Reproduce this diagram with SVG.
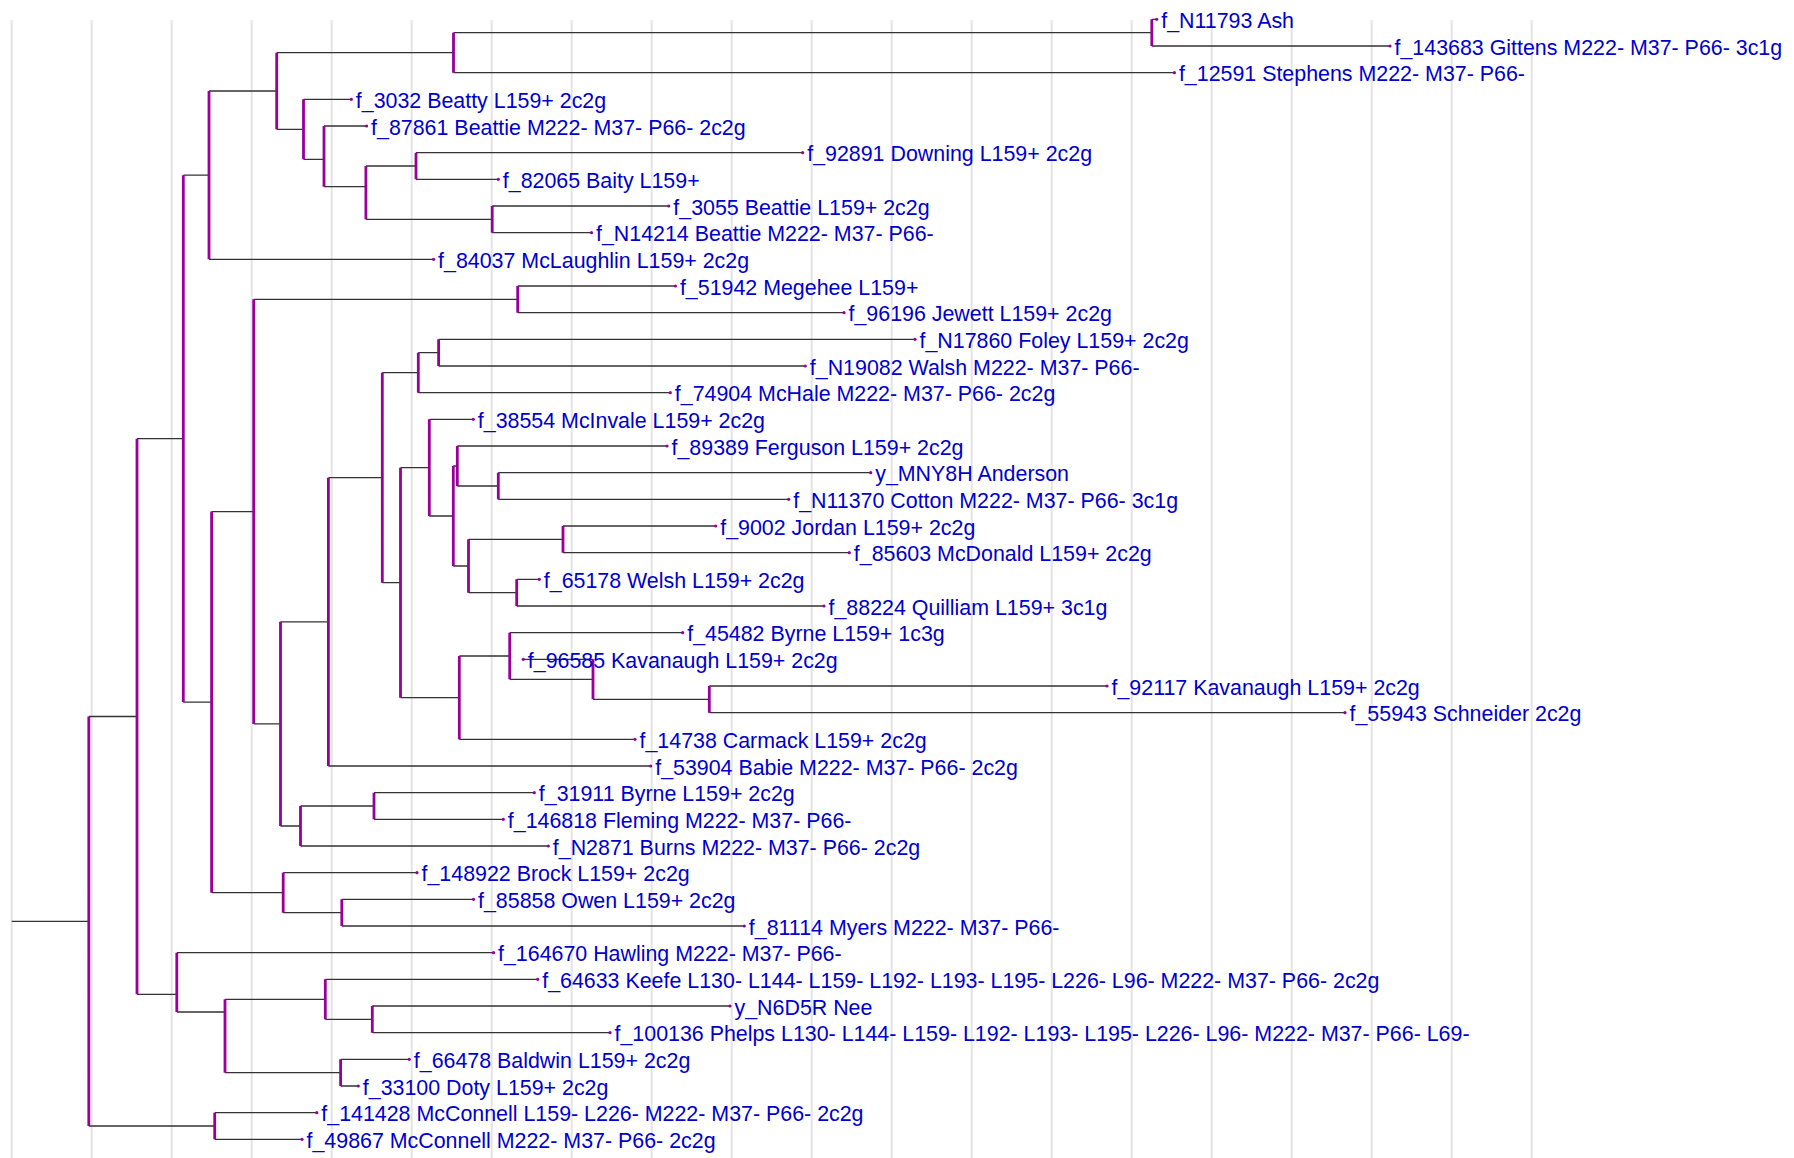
<svg xmlns="http://www.w3.org/2000/svg" width="1794" height="1158" viewBox="0 0 1794 1158">
<style>
.grid line{stroke:#e4e4e4;stroke-width:2}
.h{stroke:#333;stroke-width:1.3;fill:none}
.v{stroke:#990099;stroke-width:2.8;fill:none}
.leaf circle{fill:#990099}
.leaf text{font-family:"Liberation Sans",Arial,sans-serif;font-size:21.4px;fill:#0000cc}
</style>
<rect width="1794" height="1158" fill="#fff"/>
<g class="grid">
<line x1="11.7" y1="20" x2="11.7" y2="1158"/><line x1="91.7" y1="20" x2="91.7" y2="1158"/><line x1="171.7" y1="20" x2="171.7" y2="1158"/><line x1="251.7" y1="20" x2="251.7" y2="1158"/><line x1="331.7" y1="20" x2="331.7" y2="1158"/><line x1="411.7" y1="20" x2="411.7" y2="1158"/><line x1="491.7" y1="20" x2="491.7" y2="1158"/><line x1="571.7" y1="20" x2="571.7" y2="1158"/><line x1="651.7" y1="20" x2="651.7" y2="1158"/><line x1="731.7" y1="20" x2="731.7" y2="1158"/><line x1="811.7" y1="20" x2="811.7" y2="1158"/><line x1="891.7" y1="20" x2="891.7" y2="1158"/><line x1="971.7" y1="20" x2="971.7" y2="1158"/><line x1="1051.7" y1="20" x2="1051.7" y2="1158"/><line x1="1131.7" y1="20" x2="1131.7" y2="1158"/><line x1="1211.7" y1="20" x2="1211.7" y2="1158"/><line x1="1291.7" y1="20" x2="1291.7" y2="1158"/><line x1="1371.7" y1="20" x2="1371.7" y2="1158"/><line x1="1451.7" y1="20" x2="1451.7" y2="1158"/><line x1="1531.7" y1="20" x2="1531.7" y2="1158"/>
</g>
<g id="connectors">
<path class="h" d="M11.7 921.3H88.8
M88.8 716.5H137 M88.8 1126H214.7
M137 438.7H183.3 M137 994.3H176.8
M183.3 175.2H209 M183.3 702.1H211.6
M209 91H276.7 M209 259.3H433.6
M276.7 52.7H453.5 M276.7 129.3H303.5
M453.5 32.7H1151.8 M453.5 72.7H1174.4
M1151.8 19.3H1156.7 M1151.8 46H1390
M303.5 99.3H351.3 M303.5 159.3H324
M324 126H366.6 M324 186.7H365.9
M365.9 166H416 M365.9 219.3H492.2
M416 152.7H802.7 M416 179.3H498.3
M492.2 206H668.8 M492.2 232.7H591.5
M211.6 511.6H253.7 M211.6 892.7H283.2
M253.7 299.3H517.7 M253.7 723.9H280.5
M517.7 286H675.4 M517.7 312.7H844
M280.5 621.8H328.4 M280.5 826H300.5
M328.4 477.7H382.3 M328.4 766H650.7
M382.3 372.7H418.3 M382.3 582.7H400.5
M418.3 352.7H438.6 M418.3 392.7H670.3
M438.6 339.3H915 M438.6 366H805.3
M400.5 467.7H429.3 M400.5 697.7H459.3
M429.3 419.3H473.3 M429.3 516H453.3
M453.3 466H457.3 M453.3 566H468.5
M457.3 446H667 M457.3 486H498.3
M498.3 472.7H870.7 M498.3 499.3H788.7
M468.5 539.3H563 M468.5 592.7H516.7
M563 526H715.7 M563 552.7H849.3
M516.7 579.3H539.3 M516.7 606H824
M459.3 656H509.7 M459.3 739.3H635
M509.7 632.7H682.7 M509.7 679.3H593
M593 659.3H523.3 M593 699.3H709.3
M709.3 686H1107 M709.3 712.7H1345
M300.5 806H374 M300.5 846H548.3
M374 792.7H534.3 M374 819.3H503.3
M283.2 872.7H417 M283.2 912.7H341.8
M341.8 899.3H473.5 M341.8 926H744.3
M176.8 952.7H493.5 M176.8 1012H225
M225 999.3H325.3 M225 1072.7H340.6
M325.3 979.3H537.7 M325.3 1019.3H372.3
M372.3 1006H730 M372.3 1032.7H610
M340.6 1059.3H409.3 M340.6 1086H358.3
M214.7 1112.7H316.8 M214.7 1139.3H302"/>
<path class="v" d="M88.8 716.5V1126
M137 438.7V994.3
M183.3 175.2V702.1
M209 91V259.3
M276.7 52.7V129.3
M453.5 32.7V72.7
M1151.8 19.3V46
M303.5 99.3V159.3
M324 126V186.7
M365.9 166V219.3
M416 152.7V179.3
M492.2 206V232.7
M211.6 511.6V892.7
M253.7 299.3V723.9
M517.7 286V312.7
M280.5 621.8V826
M328.4 477.7V766
M382.3 372.7V582.7
M418.3 352.7V392.7
M438.6 339.3V366
M400.5 467.7V697.7
M429.3 419.3V516
M453.3 466V566
M457.3 446V486
M498.3 472.7V499.3
M468.5 539.3V592.7
M563 526V552.7
M516.7 579.3V606
M459.3 656V739.3
M509.7 632.7V679.3
M593 659.3V699.3
M709.3 686V712.7
M300.5 806V846
M374 792.7V819.3
M283.2 872.7V912.7
M341.8 899.3V926
M176.8 952.7V1012
M225 999.3V1072.7
M325.3 979.3V1019.3
M372.3 1006V1032.7
M340.6 1059.3V1086
M214.7 1112.7V1139.3"/>
</g>
<g id="leaf-0" class="leaf"><circle cx="1156.7" cy="19.3" r="1.6"/><text x="1161.2" y="27.8">f_N11793 Ash</text></g>
<g id="leaf-1" class="leaf"><circle cx="1390" cy="46" r="1.6"/><text x="1394.5" y="54.5">f_143683 Gittens M222- M37- P66- 3c1g</text></g>
<g id="leaf-2" class="leaf"><circle cx="1174.4" cy="72.7" r="1.6"/><text x="1178.9" y="81.2">f_12591 Stephens M222- M37- P66-</text></g>
<g id="leaf-3" class="leaf"><circle cx="351.3" cy="99.3" r="1.6"/><text x="355.8" y="107.8">f_3032 Beatty L159+ 2c2g</text></g>
<g id="leaf-4" class="leaf"><circle cx="366.6" cy="126" r="1.6"/><text x="371.1" y="134.5">f_87861 Beattie M222- M37- P66- 2c2g</text></g>
<g id="leaf-5" class="leaf"><circle cx="802.7" cy="152.7" r="1.6"/><text x="807.2" y="161.2">f_92891 Downing L159+ 2c2g</text></g>
<g id="leaf-6" class="leaf"><circle cx="498.3" cy="179.3" r="1.6"/><text x="502.8" y="187.8">f_82065 Baity L159+</text></g>
<g id="leaf-7" class="leaf"><circle cx="668.8" cy="206" r="1.6"/><text x="673.3" y="214.5">f_3055 Beattie L159+ 2c2g</text></g>
<g id="leaf-8" class="leaf"><circle cx="591.5" cy="232.7" r="1.6"/><text x="596" y="241.2">f_N14214 Beattie M222- M37- P66-</text></g>
<g id="leaf-9" class="leaf"><circle cx="433.6" cy="259.3" r="1.6"/><text x="438.1" y="267.8">f_84037 McLaughlin L159+ 2c2g</text></g>
<g id="leaf-10" class="leaf"><circle cx="675.4" cy="286" r="1.6"/><text x="679.9" y="294.5">f_51942 Megehee L159+</text></g>
<g id="leaf-11" class="leaf"><circle cx="844" cy="312.7" r="1.6"/><text x="848.5" y="321.2">f_96196 Jewett L159+ 2c2g</text></g>
<g id="leaf-12" class="leaf"><circle cx="915" cy="339.3" r="1.6"/><text x="919.5" y="347.8">f_N17860 Foley L159+ 2c2g</text></g>
<g id="leaf-13" class="leaf"><circle cx="805.3" cy="366" r="1.6"/><text x="809.8" y="374.5">f_N19082 Walsh M222- M37- P66-</text></g>
<g id="leaf-14" class="leaf"><circle cx="670.3" cy="392.7" r="1.6"/><text x="674.8" y="401.2">f_74904 McHale M222- M37- P66- 2c2g</text></g>
<g id="leaf-15" class="leaf"><circle cx="473.3" cy="419.3" r="1.6"/><text x="477.8" y="427.8">f_38554 McInvale L159+ 2c2g</text></g>
<g id="leaf-16" class="leaf"><circle cx="667" cy="446" r="1.6"/><text x="671.5" y="454.5">f_89389 Ferguson L159+ 2c2g</text></g>
<g id="leaf-17" class="leaf"><circle cx="870.7" cy="472.7" r="1.6"/><text x="875.2" y="481.2">y_MNY8H Anderson</text></g>
<g id="leaf-18" class="leaf"><circle cx="788.7" cy="499.3" r="1.6"/><text x="793.2" y="507.8">f_N11370 Cotton M222- M37- P66- 3c1g</text></g>
<g id="leaf-19" class="leaf"><circle cx="715.7" cy="526" r="1.6"/><text x="720.2" y="534.5">f_9002 Jordan L159+ 2c2g</text></g>
<g id="leaf-20" class="leaf"><circle cx="849.3" cy="552.7" r="1.6"/><text x="853.8" y="561.2">f_85603 McDonald L159+ 2c2g</text></g>
<g id="leaf-21" class="leaf"><circle cx="539.3" cy="579.3" r="1.6"/><text x="543.8" y="587.8">f_65178 Welsh L159+ 2c2g</text></g>
<g id="leaf-22" class="leaf"><circle cx="824" cy="606" r="1.6"/><text x="828.5" y="614.5">f_88224 Quilliam L159+ 3c1g</text></g>
<g id="leaf-23" class="leaf"><circle cx="682.7" cy="632.7" r="1.6"/><text x="687.2" y="641.2">f_45482 Byrne L159+ 1c3g</text></g>
<g id="leaf-24" class="leaf"><circle cx="523.3" cy="659.3" r="1.6"/><text x="527.8" y="667.8">f_96585 Kavanaugh L159+ 2c2g</text></g>
<g id="leaf-25" class="leaf"><circle cx="1107" cy="686" r="1.6"/><text x="1111.5" y="694.5">f_92117 Kavanaugh L159+ 2c2g</text></g>
<g id="leaf-26" class="leaf"><circle cx="1345" cy="712.7" r="1.6"/><text x="1349.5" y="721.2">f_55943 Schneider 2c2g</text></g>
<g id="leaf-27" class="leaf"><circle cx="635" cy="739.3" r="1.6"/><text x="639.5" y="747.8">f_14738 Carmack L159+ 2c2g</text></g>
<g id="leaf-28" class="leaf"><circle cx="650.7" cy="766" r="1.6"/><text x="655.2" y="774.5">f_53904 Babie M222- M37- P66- 2c2g</text></g>
<g id="leaf-29" class="leaf"><circle cx="534.3" cy="792.7" r="1.6"/><text x="538.8" y="801.2">f_31911 Byrne L159+ 2c2g</text></g>
<g id="leaf-30" class="leaf"><circle cx="503.3" cy="819.3" r="1.6"/><text x="507.8" y="827.8">f_146818 Fleming M222- M37- P66-</text></g>
<g id="leaf-31" class="leaf"><circle cx="548.3" cy="846" r="1.6"/><text x="552.8" y="854.5">f_N2871 Burns M222- M37- P66- 2c2g</text></g>
<g id="leaf-32" class="leaf"><circle cx="417" cy="872.7" r="1.6"/><text x="421.5" y="881.2">f_148922 Brock L159+ 2c2g</text></g>
<g id="leaf-33" class="leaf"><circle cx="473.5" cy="899.3" r="1.6"/><text x="478" y="907.8">f_85858 Owen L159+ 2c2g</text></g>
<g id="leaf-34" class="leaf"><circle cx="744.3" cy="926" r="1.6"/><text x="748.8" y="934.5">f_81114 Myers M222- M37- P66-</text></g>
<g id="leaf-35" class="leaf"><circle cx="493.5" cy="952.7" r="1.6"/><text x="498" y="961.2">f_164670 Hawling M222- M37- P66-</text></g>
<g id="leaf-36" class="leaf"><circle cx="537.7" cy="979.3" r="1.6"/><text x="542.2" y="987.8">f_64633 Keefe L130- L144- L159- L192- L193- L195- L226- L96- M222- M37- P66- 2c2g</text></g>
<g id="leaf-37" class="leaf"><circle cx="730" cy="1006" r="1.6"/><text x="734.5" y="1014.5">y_N6D5R Nee</text></g>
<g id="leaf-38" class="leaf"><circle cx="610" cy="1032.7" r="1.6"/><text x="614.5" y="1041.2">f_100136 Phelps L130- L144- L159- L192- L193- L195- L226- L96- M222- M37- P66- L69-</text></g>
<g id="leaf-39" class="leaf"><circle cx="409.3" cy="1059.3" r="1.6"/><text x="413.8" y="1067.8">f_66478 Baldwin L159+ 2c2g</text></g>
<g id="leaf-40" class="leaf"><circle cx="358.3" cy="1086" r="1.6"/><text x="362.8" y="1094.5">f_33100 Doty L159+ 2c2g</text></g>
<g id="leaf-41" class="leaf"><circle cx="316.8" cy="1112.7" r="1.6"/><text x="321.3" y="1121.2">f_141428 McConnell L159- L226- M222- M37- P66- 2c2g</text></g>
<g id="leaf-42" class="leaf"><circle cx="302" cy="1139.3" r="1.6"/><text x="306.5" y="1147.8">f_49867 McConnell M222- M37- P66- 2c2g</text></g>
</svg>
